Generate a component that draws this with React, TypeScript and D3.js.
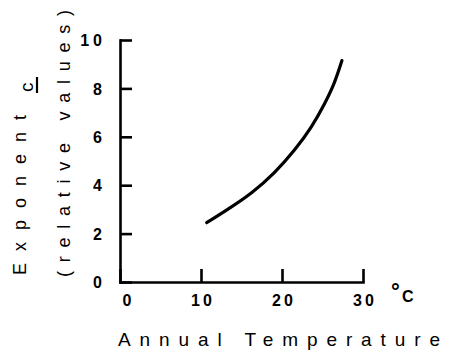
import React, { useRef, useEffect } from "react";
import * as d3 from "d3";

// temperature (°C) vs relative exponent c
const temps = [10.7, 13.4, 16.3, 19.1, 21.6, 23.7, 25.3, 26.5, 27.4];
const exponents = [2.45, 3.02, 3.67, 4.5, 5.45, 6.41, 7.38, 8.21, 9.15];
const xTicks = [0, 10, 20, 30];
const yTicks = [0, 2, 4, 6, 8, 10];

const FONT = "'Liberation Sans', Arial, Helvetica, sans-serif";

function App() {
  const svgRef = useRef<SVGSVGElement>(null);

  useEffect(() => {
    const width = 453;
    const height = 353;
    const svg = d3.select(svgRef.current).attr("width", width).attr("height", height);
    svg.selectAll("*").remove();

    const x = d3.scaleLinear().domain([0, 30]).range([120, 363]);
    const y = d3.scaleLinear().domain([0, 10]).range([282, 40]);

    // y axis, ticks pointing inward
    const yAxis = svg
      .append("g")
      .attr("transform", `translate(${x(0)},0)`)
      .call(d3.axisLeft(y).tickValues(yTicks).tickSizeInner(-12).tickSizeOuter(0).tickPadding(16));

    // x axis, ticks pointing up
    const xAxis = svg
      .append("g")
      .attr("transform", `translate(0,${y(0)})`)
      .call(d3.axisBottom(x).tickValues(xTicks).tickSizeInner(-13).tickSizeOuter(0).tickPadding(13));

    [yAxis, xAxis].forEach((g) => {
      g.select(".domain").attr("stroke", "#000").attr("stroke-width", 2.6).attr("stroke-linecap", "square");
      g.selectAll(".tick line").attr("stroke", "#000").attr("stroke-width", 2.6);
      g.selectAll(".tick text")
        .attr("fill", "#000")
        .style("font-family", FONT)
        .style("font-weight", "bold")
        .style("font-size", "16px");
    });
    yAxis.selectAll(".tick text").style("letter-spacing", "4px").attr("dx", "2px").attr("dy", "0.36em");
    xAxis.selectAll(".tick text").style("letter-spacing", "3px").attr("dx", "1.5px");
    xAxis
      .selectAll<SVGTextElement, number>(".tick text")
      .filter((d) => d === 0)
      .attr("dx", "8px");

    // curve
    const line = d3
      .line<number>()
      .x((d, i) => x(temps[i]))
      .y((d) => y(d))
      .curve(d3.curveBasis);

    svg
      .append("path")
      .datum(exponents)
      .attr("fill", "none")
      .attr("stroke", "#000")
      .attr("stroke-width", 3.2)
      .attr("stroke-linecap", "round")
      .attr("d", line);

    // °C unit
    svg
      .append("text")
      .attr("x", 391)
      .attr("y", 299)
      .style("font-family", FONT)
      .style("font-size", "22px")
      .style("font-weight", "bold")
      .text("°");
    svg
      .append("text")
      .attr("x", 402)
      .attr("y", 302)
      .style("font-family", FONT)
      .style("font-size", "16px")
      .style("font-weight", "bold")
      .text("C");

    // x axis title
    svg
      .append("text")
      .attr("x", 118)
      .attr("y", 346)
      .attr("textLength", 322)
      .attr("lengthAdjust", "spacing")
      .style("font-family", FONT)
      .style("font-size", "19px")
      .text("Annual Temperature");

    // y axis titles
    svg
      .append("text")
      .attr("transform", "translate(26,275) rotate(-90)")
      .attr("textLength", 160)
      .attr("lengthAdjust", "spacing")
      .style("font-family", FONT)
      .style("font-size", "18px")
      .text("Exponent");

    svg
      .append("text")
      .attr("transform", "translate(33,92) rotate(-90)")
      .style("font-family", FONT)
      .style("font-size", "19px")
      .text("c");

    svg
      .append("line")
      .attr("x1", 37)
      .attr("x2", 37)
      .attr("y1", 77)
      .attr("y2", 93)
      .attr("stroke", "#000")
      .attr("stroke-width", 2.2);

    svg
      .append("text")
      .attr("transform", "translate(70,277) rotate(-90)")
      .attr("textLength", 267)
      .attr("lengthAdjust", "spacing")
      .style("font-family", FONT)
      .style("font-size", "18px")
      .text("(relative values)");
  }, []);

  return (
    <svg
      ref={svgRef}
      style={{ position: "absolute", left: 0, top: 0, background: "#fff" }}
    ></svg>
  );
}

export default App;
